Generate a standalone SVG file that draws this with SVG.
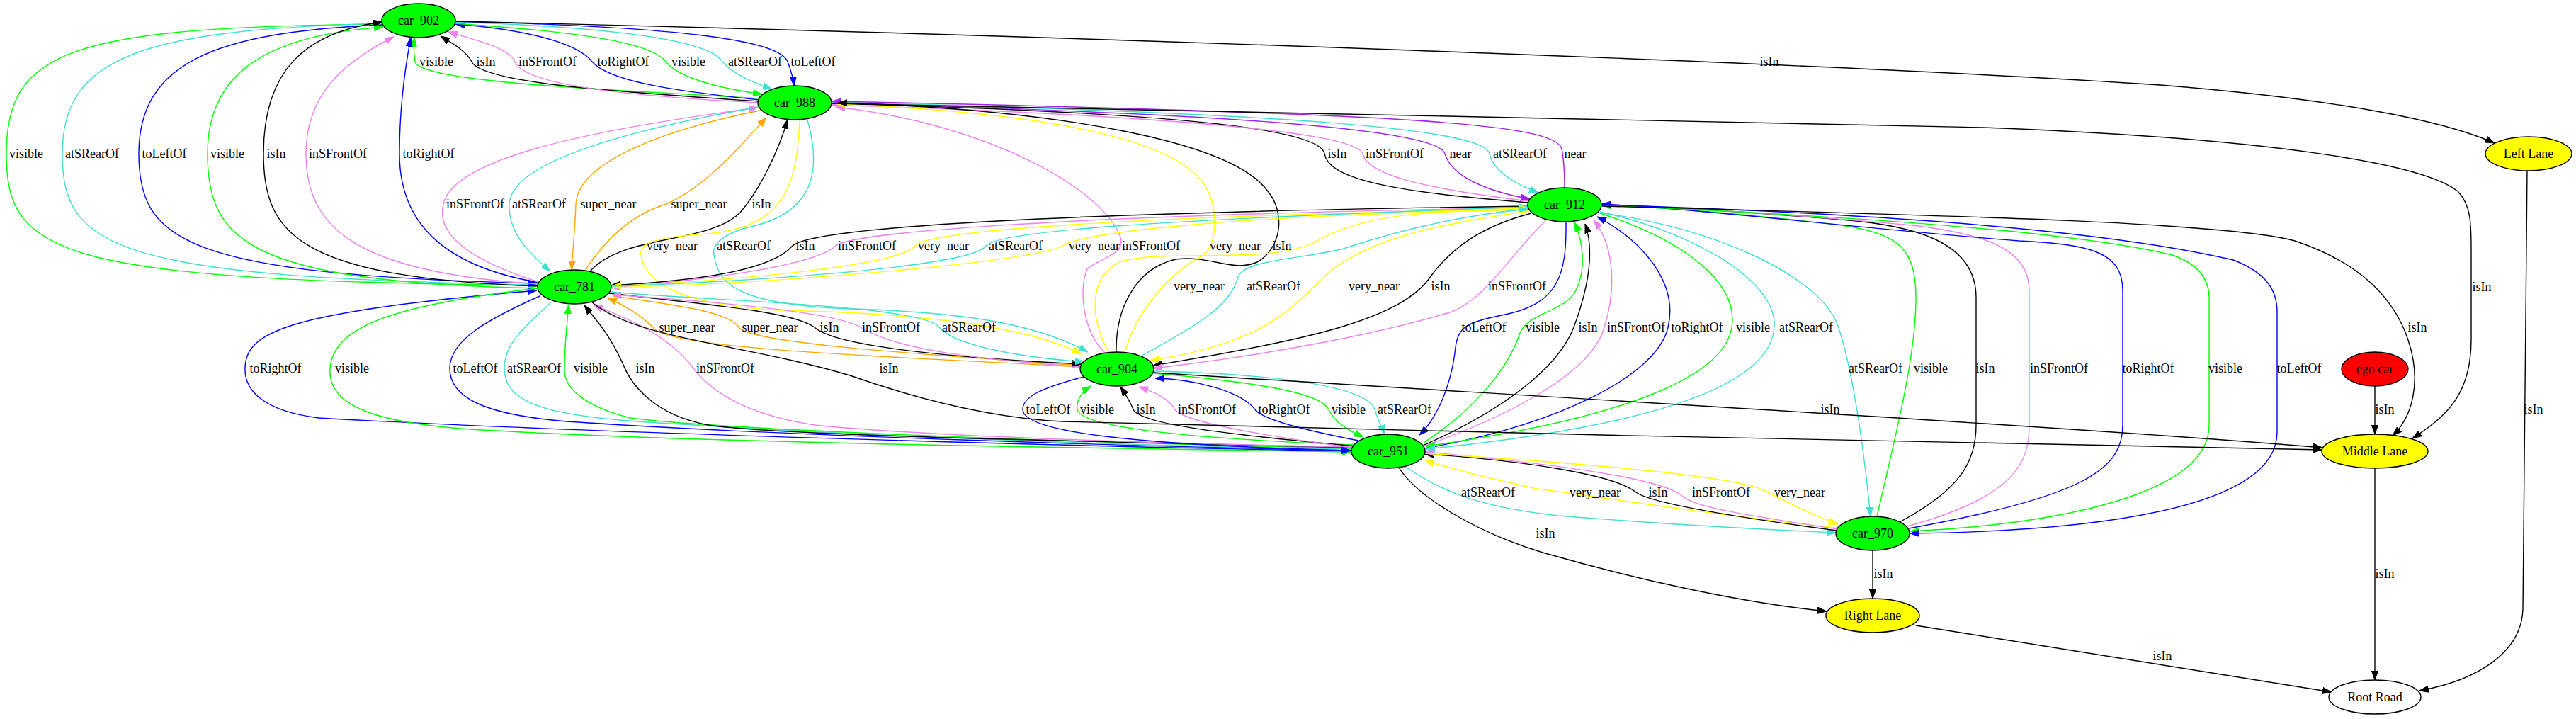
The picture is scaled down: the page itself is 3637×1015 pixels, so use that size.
<svg xmlns="http://www.w3.org/2000/svg" width="3637" height="1015" viewBox="0 0 3637 1015">
<style>
.e{fill:none;stroke-width:1.4}
.k{stroke:#000;marker-end:url(#mk)}
.g{stroke:#00ff00;marker-end:url(#mg)}
.t{stroke:#40e0d0;marker-end:url(#mt)}
.b{stroke:#0000ff;marker-end:url(#mb)}
.v{stroke:#ee82ee;marker-end:url(#mv)}
.o{stroke:#ffa500;marker-end:url(#mo)}
.y{stroke:#ffff00;marker-end:url(#my)}
.p{stroke:#a020f0;marker-end:url(#mp)}
.l{font-family:"Liberation Serif","Times New Roman",serif;font-size:18px;text-anchor:middle;fill:#000}
.n{stroke:#000;stroke-width:1.4}
.car{fill:#00ff00}
.lane{fill:#ffff00}
</style>
<defs>
<marker id="mk" viewBox="0 0 13 10" refX="13" refY="5" markerWidth="13" markerHeight="10" markerUnits="userSpaceOnUse" orient="auto"><path d="M0,0.4 L13,5 L0,9.6 Z" fill="#000" stroke="#000"/></marker>
<marker id="mg" viewBox="0 0 13 10" refX="13" refY="5" markerWidth="13" markerHeight="10" markerUnits="userSpaceOnUse" orient="auto"><path d="M0,0.4 L13,5 L0,9.6 Z" fill="#00ff00" stroke="#00ff00"/></marker>
<marker id="mt" viewBox="0 0 13 10" refX="13" refY="5" markerWidth="13" markerHeight="10" markerUnits="userSpaceOnUse" orient="auto"><path d="M0,0.4 L13,5 L0,9.6 Z" fill="#40e0d0" stroke="#40e0d0"/></marker>
<marker id="mb" viewBox="0 0 13 10" refX="13" refY="5" markerWidth="13" markerHeight="10" markerUnits="userSpaceOnUse" orient="auto"><path d="M0,0.4 L13,5 L0,9.6 Z" fill="#0000ff" stroke="#0000ff"/></marker>
<marker id="mv" viewBox="0 0 13 10" refX="13" refY="5" markerWidth="13" markerHeight="10" markerUnits="userSpaceOnUse" orient="auto"><path d="M0,0.4 L13,5 L0,9.6 Z" fill="#ee82ee" stroke="#ee82ee"/></marker>
<marker id="mo" viewBox="0 0 13 10" refX="13" refY="5" markerWidth="13" markerHeight="10" markerUnits="userSpaceOnUse" orient="auto"><path d="M0,0.4 L13,5 L0,9.6 Z" fill="#ffa500" stroke="#ffa500"/></marker>
<marker id="my" viewBox="0 0 13 10" refX="13" refY="5" markerWidth="13" markerHeight="10" markerUnits="userSpaceOnUse" orient="auto"><path d="M0,0.4 L13,5 L0,9.6 Z" fill="#ffff00" stroke="#ffff00"/></marker>
<marker id="mp" viewBox="0 0 13 10" refX="13" refY="5" markerWidth="13" markerHeight="10" markerUnits="userSpaceOnUse" orient="auto"><path d="M0,0.4 L13,5 L0,9.6 Z" fill="#a020f0" stroke="#a020f0"/></marker>
</defs>
<rect width="3637" height="1015" fill="#fff"/>
<g id="connectors">
<!-- 902 <-> 988 -->
<path class="e g" d="M1072,139 C900,128 592,118 586,87 C584,75 584,64 585,53"/>
<path class="e k" d="M1071,143 C880,130 680,118 666,87 C658,72 640,62 622,51"/>
<path class="e v" d="M1071,145 C880,135 740,120 727,87 C720,68 670,56 633,45"/>
<path class="e b" d="M1072,141 C950,128 860,115 836,87 C810,55 720,40 643,34"/>
<path class="e g" d="M641,33 C820,45 920,60 940,87 C960,112 1020,125 1076,133"/>
<path class="e t" d="M642,31 C850,38 1000,55 1020,87 C1035,105 1065,117 1090,126"/>
<path class="e b" d="M643,30 C950,38 1100,55 1112,87 C1117,100 1120,110 1121,121"/>
<!-- 902 <-> 781 -->
<path class="e g" d="M540,34 C100,38 9,70 9,217 C9,360 80,396 759,403"/>
<path class="e t" d="M540,33 C200,42 88,80 88,217 C88,350 160,392 759,402"/>
<path class="e b" d="M541,35 C300,45 196,90 196,217 C196,340 260,388 759,400"/>
<path class="e g" d="M759,407 C350,398 293,340 293,217 C293,100 380,50 541,38"/>
<path class="e k" d="M760,404 C420,392 372,330 372,217 C372,100 430,45 540,31"/>
<path class="e v" d="M761,401 C500,385 432,320 432,217 C432,130 490,85 556,52"/>
<path class="e b" d="M762,399 C620,375 564,310 564,217 C564,150 572,95 580,53"/>
<!-- 988 <-> 781 -->
<path class="e v" d="M760,398 C640,360 618,320 626,288 C640,225 820,185 1070,152"/>
<path class="e t" d="M1071,151 C850,190 722,235 719,288 C717,330 750,360 777,383"/>
<path class="e o" d="M1078,155 C900,190 815,240 813,288 C812,320 809,350 807,381"/>
<path class="e o" d="M826,382 C860,330 900,300 941,288 C1000,262 1050,200 1082,166"/>
<path class="e k" d="M833,383 C880,330 1000,345 1045,300 C1075,265 1100,210 1112,169"/>
<!-- 988 <-> 912 -->
<path class="e k" d="M2158,286 C1950,270 1875,250 1870,217 C1865,185 1700,160 1175,146"/>
<path class="e v" d="M2158,284 C2000,265 1930,245 1924,217 C1915,190 1700,165 1175,148"/>
<path class="e p" d="M1174,145 C1700,160 2030,180 2040,217 C2050,250 2100,270 2160,281"/>
<path class="e t" d="M1174,144 C1800,160 2095,180 2103,217 C2108,240 2135,258 2172,272"/>
<path class="e p" d="M2209,265 C2209,240 2208,225 2205,210 C2195,175 2000,160 1175,143"/>
<!-- 988 <-> 904 -->
<path class="e y" d="M1129,169 C1125,260 1110,320 1000,330 C920,335 902,345 905,360 C911,400 960,430 1100,438 C1300,442 1450,460 1527,500"/>
<path class="e t" d="M1140,169 C1160,240 1150,300 1060,320 C1020,330 1005,345 1008,360 C1015,410 1060,430 1200,436 C1350,440 1460,455 1536,497"/>
<path class="e v" d="M1560,498 C1530,470 1522,410 1535,380 C1550,365 1590,360 1582,335 C1560,270 1400,175 1180,151"/>
<path class="e y" d="M1588,497 C1605,440 1650,385 1700,360 C1720,340 1720,290 1700,260 C1660,200 1500,160 1182,147"/>
<path class="e k" d="M1576,497 C1575,440 1600,380 1660,366 C1710,360 1740,385 1775,370 C1810,350 1815,300 1790,270 C1740,200 1500,155 1183,145"/>
<!-- 912 <-> 781 -->
<path class="e k" d="M2160,291 C1500,300 1150,320 1119,347 C1090,380 1000,395 862,403"/>
<path class="e v" d="M2160,293 C1450,305 1200,330 1180,347 C1150,375 1000,395 863,406"/>
<path class="e y" d="M2160,295 C1600,305 1310,325 1292,347 C1270,375 1050,395 864,404"/>
<path class="e t" d="M863,404 C1000,400 1370,380 1392,347 C1410,325 1650,310 2158,292"/>
<path class="e y" d="M863,406 C1100,400 1460,370 1500,347 C1530,330 1700,305 2158,296"/>
<!-- 912 <-> 904 -->
<path class="e y" d="M1565,497 C1540,450 1535,395 1580,370 C1640,350 1800,375 1860,340 C1920,305 2000,298 2158,294"/>
<path class="e t" d="M1612,502 C1690,460 1740,430 1748,390 C1760,365 1850,365 1900,350 C1960,330 2050,305 2158,295"/>
<path class="e y" d="M2159,298 C2000,320 1920,345 1870,390 C1820,440 1780,485 1624,509"/>
<path class="e k" d="M2162,301 C2090,320 2050,350 2020,390 C1980,450 1850,480 1628,516"/>
<path class="e v" d="M2183,311 C2140,350 2100,420 2050,440 C1950,470 1800,500 1628,520"/>
<!-- 781 <-> 904 -->
<path class="e o" d="M1525,518 C1300,505 960,495 925,465 C905,445 880,430 858,421"/>
<path class="e o" d="M866,418 C950,430 1030,440 1043,462 C1060,485 1300,500 1526,516"/>
<path class="e k" d="M860,414 C1000,430 1120,440 1150,462 C1180,490 1350,505 1527,514"/>
<path class="e v" d="M1527,518 C1350,505 1260,490 1215,462 C1180,440 1000,425 864,416"/>
<path class="e t" d="M862,412 C1000,425 1300,430 1326,462 C1350,490 1450,505 1531,511"/>
<!-- 781 <-> 951 -->
<path class="e b" d="M1907,637 C1500,630 800,610 450,590 C370,580 345,550 346,520 C346,470 400,440 758,410"/>
<path class="e g" d="M759,407 C560,430 470,460 466,520 C462,570 520,600 700,608 C1000,625 1500,632 1908,638"/>
<path class="e b" d="M762,418 C690,450 635,480 635,520 C635,560 680,585 800,595 C1100,615 1600,630 1907,636"/>
<path class="e t" d="M778,427 C730,470 712,490 712,520 C712,565 760,585 900,595 C1200,615 1600,630 1910,634"/>
<path class="e g" d="M1910,633 C1500,625 1000,605 890,590 C830,575 795,550 797,520 C797,490 800,460 803,430"/>
<path class="e k" d="M1910,632 C1500,622 1100,615 1000,600 C920,585 890,540 880,515 C860,470 840,450 825,431"/>
<path class="e v" d="M1910,631 C1600,625 1300,615 1150,600 C1050,585 1000,550 975,515 C935,465 870,445 838,430"/>
<!-- 904 <-> 951 -->
<path class="e b" d="M1530,532 C1470,548 1444,560 1444,578 C1444,610 1600,628 1907,636"/>
<path class="e g" d="M1912,628 C1700,620 1525,605 1521,578 C1519,565 1528,553 1540,545"/>
<path class="e k" d="M1915,630 C1750,615 1610,600 1600,578 C1595,565 1588,555 1582,546"/>
<path class="e v" d="M1912,632 C1780,615 1670,595 1659,578 C1648,560 1625,552 1608,546"/>
<path class="e b" d="M1918,622 C1830,605 1780,590 1772,578 C1750,550 1680,535 1631,534"/>
<path class="e g" d="M1629,527 C1780,540 1865,555 1876,578 C1885,598 1905,608 1925,617"/>
<path class="e t" d="M1629,524 C1800,528 1930,545 1941,578 C1946,595 1952,605 1955,613"/>
<!-- 912 <-> 951 -->
<path class="e b" d="M2211,313 C2212,390 2200,430 2120,445 C2070,455 2059,462 2055,490 C2050,540 2030,590 2004,614"/>
<path class="e g" d="M2010,625 C2080,580 2130,520 2146,470 C2160,440 2210,440 2225,410 C2240,380 2235,340 2223,314"/>
<path class="e k" d="M2011,628 C2120,580 2200,520 2222,462 C2245,400 2250,350 2238,316"/>
<path class="e v" d="M2010,630 C2150,580 2250,520 2265,462 C2285,400 2275,340 2250,311"/>
<path class="e b" d="M2011,633 C2200,600 2340,530 2355,462 C2370,400 2320,340 2255,306"/>
<path class="e g" d="M2259,301 C2380,340 2455,400 2445,462 C2435,530 2300,590 2013,630"/>
<path class="e t" d="M2259,299 C2400,330 2510,400 2505,462 C2500,540 2350,600 2013,634"/>
<!-- 912 <-> 970 -->
<path class="e t" d="M2255,300 C2420,320 2570,390 2595,460 C2615,520 2630,620 2641,729"/>
<path class="e g" d="M2650,729 C2680,600 2705,500 2705,420 C2705,350 2680,330 2600,318 C2450,300 2330,292 2262,290"/>
<path class="e k" d="M2682,737 C2770,690 2790,650 2790,600 L2790,420 C2790,340 2700,318 2600,310 C2450,298 2330,291 2262,289"/>
<path class="e v" d="M2693,743 C2850,700 2865,650 2865,600 L2865,410 C2865,350 2800,330 2700,318 C2500,300 2330,291 2262,289"/>
<path class="e b" d="M2695,746 C2950,700 2997,660 2997,600 L2997,410 C2997,355 2950,345 2850,340 C2600,320 2400,295 2262,288"/>
<path class="e g" d="M2262,290 C2500,300 2900,320 3067,360 C3110,375 3119,400 3119,420 L3119,600 C3119,700 2900,740 2697,750"/>
<path class="e b" d="M2262,289 C2600,300 2950,320 3153,367 C3200,385 3215,410 3215,440 L3215,610 C3215,720 2950,750 2697,753"/>
<!-- 951 <-> 970 -->
<path class="e t" d="M1983,658 C2030,690 2080,715 2200,728 C2350,740 2500,748 2592,752"/>
<path class="e y" d="M2593,745 C2400,725 2250,700 2170,690 C2100,675 2050,662 2012,650"/>
<path class="e k" d="M2593,749 C2450,730 2330,710 2310,695 C2280,670 2150,650 2012,641"/>
<path class="e v" d="M2594,747 C2450,725 2390,715 2375,700 C2350,680 2250,660 2012,638"/>
<path class="e y" d="M2012,640 C2250,655 2450,672 2490,692 C2530,712 2560,728 2595,740"/>
<!-- lanes / road -->
<path class="e k" d="M643,30 C1500,50 2600,90 3050,120 C3300,140 3450,170 3522,202"/>
<path class="e k" d="M1174,146 C1700,160 2300,165 2800,180 C3200,195 3420,230 3470,270 C3490,290 3489,320 3489,360 L3489,480 C3489,560 3450,590 3406,619"/>
<path class="e k" d="M2262,291 C2800,305 3150,315 3240,340 C3330,370 3380,420 3400,480 C3420,540 3405,590 3378,615"/>
<path class="e k" d="M835,426 C900,480 1050,485 1200,530 C1300,565 1400,590 1500,595 C2000,610 3000,630 3278,635"/>
<path class="e k" d="M1629,526 C2000,550 2900,600 3279,632"/>
<path class="e k" d="M3353,545 L3353,613"/>
<path class="e k" d="M3353,661 L3353,960"/>
<path class="e k" d="M3568,241 L3562,860 C3560,920 3500,960 3416,975"/>
<path class="e k" d="M2705,883 L3292,977"/>
<path class="e k" d="M1975,660 C2000,700 2080,750 2178,780 C2300,815 2450,850 2579,863"/>
<path class="e k" d="M2644,777 L2644,845"/>
</g>
<g id="edge-labels">
<text class="l" x="616" y="93">visible</text>
<text class="l" x="686" y="93">isIn</text>
<text class="l" x="773" y="93">inSFrontOf</text>
<text class="l" x="880" y="93">toRightOf</text>
<text class="l" x="972" y="93">visible</text>
<text class="l" x="1066" y="93">atSRearOf</text>
<text class="l" x="1148" y="93">toLeftOf</text>
<text class="l" x="2498" y="93">isIn</text>
<text class="l" x="37" y="223">visible</text>
<text class="l" x="130" y="223">atSRearOf</text>
<text class="l" x="232" y="223">toLeftOf</text>
<text class="l" x="321" y="223">visible</text>
<text class="l" x="390" y="223">isIn</text>
<text class="l" x="477" y="223">inSFrontOf</text>
<text class="l" x="605" y="223">toRightOf</text>
<text class="l" x="1888" y="223">isIn</text>
<text class="l" x="1969" y="223">inSFrontOf</text>
<text class="l" x="2062" y="223">near</text>
<text class="l" x="2146" y="223">atSRearOf</text>
<text class="l" x="2224" y="223">near</text>
<text class="l" x="671" y="294">inSFrontOf</text>
<text class="l" x="761" y="294">atSRearOf</text>
<text class="l" x="859" y="294">super_near</text>
<text class="l" x="987" y="294">super_near</text>
<text class="l" x="1075" y="294">isIn</text>
<text class="l" x="949" y="353">very_near</text>
<text class="l" x="1050" y="353">atSRearOf</text>
<text class="l" x="1137" y="353">isIn</text>
<text class="l" x="1224" y="353">inSFrontOf</text>
<text class="l" x="1332" y="353">very_near</text>
<text class="l" x="1434" y="353">atSRearOf</text>
<text class="l" x="1545" y="353">very_near</text>
<text class="l" x="1625" y="353">inSFrontOf</text>
<text class="l" x="1744" y="353">very_near</text>
<text class="l" x="1810" y="353">isIn</text>
<text class="l" x="1693" y="410">very_near</text>
<text class="l" x="1798" y="410">atSRearOf</text>
<text class="l" x="1940" y="410">very_near</text>
<text class="l" x="2034" y="410">isIn</text>
<text class="l" x="2142" y="410">inSFrontOf</text>
<text class="l" x="3504" y="411">isIn</text>
<text class="l" x="970" y="468">super_near</text>
<text class="l" x="1087" y="468">super_near</text>
<text class="l" x="1171" y="468">isIn</text>
<text class="l" x="1258" y="468">inSFrontOf</text>
<text class="l" x="1368" y="468">atSRearOf</text>
<text class="l" x="2095" y="468">toLeftOf</text>
<text class="l" x="2178" y="468">visible</text>
<text class="l" x="2242" y="468">isIn</text>
<text class="l" x="2310" y="468">inSFrontOf</text>
<text class="l" x="2396" y="468">toRightOf</text>
<text class="l" x="2475" y="468">visible</text>
<text class="l" x="2550" y="468">atSRearOf</text>
<text class="l" x="3413" y="468">isIn</text>
<text class="l" x="389" y="526">toRightOf</text>
<text class="l" x="497" y="526">visible</text>
<text class="l" x="671" y="526">toLeftOf</text>
<text class="l" x="754" y="526">atSRearOf</text>
<text class="l" x="834" y="526">visible</text>
<text class="l" x="911" y="526">isIn</text>
<text class="l" x="1024" y="526">inSFrontOf</text>
<text class="l" x="1255" y="526">isIn</text>
<text class="l" x="2648" y="526">atSRearOf</text>
<text class="l" x="2726" y="526">visible</text>
<text class="l" x="2803" y="526">isIn</text>
<text class="l" x="2907" y="526">inSFrontOf</text>
<text class="l" x="3033" y="526">toRightOf</text>
<text class="l" x="3142" y="526">visible</text>
<text class="l" x="3246" y="526">toLeftOf</text>
<text class="l" x="1480" y="584">toLeftOf</text>
<text class="l" x="1549" y="584">visible</text>
<text class="l" x="1618" y="584">isIn</text>
<text class="l" x="1704" y="584">inSFrontOf</text>
<text class="l" x="1813" y="584">toRightOf</text>
<text class="l" x="1904" y="584">visible</text>
<text class="l" x="1983" y="584">atSRearOf</text>
<text class="l" x="2584" y="584">isIn</text>
<text class="l" x="3367" y="584">isIn</text>
<text class="l" x="3577" y="584">isIn</text>
<text class="l" x="2101" y="701">atSRearOf</text>
<text class="l" x="2252" y="701">very_near</text>
<text class="l" x="2341" y="701">isIn</text>
<text class="l" x="2430" y="701">inSFrontOf</text>
<text class="l" x="2541" y="701">very_near</text>
<text class="l" x="2182" y="759">isIn</text>
<text class="l" x="2659" y="816">isIn</text>
<text class="l" x="3367" y="816">isIn</text>
<text class="l" x="3053" y="932">isIn</text>
</g>
<g id="node-car_902"><ellipse class="n car" cx="591" cy="29" rx="52" ry="24"/><text class="l" x="591" y="35">car_902</text></g>
<g id="node-car_988"><ellipse class="n car" cx="1122" cy="145" rx="52" ry="24"/><text class="l" x="1122" y="151">car_988</text></g>
<g id="node-car_912"><ellipse class="n car" cx="2209" cy="289" rx="52" ry="24"/><text class="l" x="2209" y="295">car_912</text></g>
<g id="node-car_781"><ellipse class="n car" cx="811" cy="405" rx="52" ry="24"/><text class="l" x="811" y="411">car_781</text></g>
<g id="node-car_904"><ellipse class="n car" cx="1577" cy="521" rx="52" ry="24"/><text class="l" x="1577" y="527">car_904</text></g>
<g id="node-car_951"><ellipse class="n car" cx="1960" cy="637" rx="52" ry="24"/><text class="l" x="1960" y="643">car_951</text></g>
<g id="node-car_970"><ellipse class="n car" cx="2644" cy="753" rx="52" ry="24"/><text class="l" x="2644" y="759">car_970</text></g>
<g id="node-left_lane"><ellipse class="n lane" cx="3570" cy="217" rx="61" ry="24"/><text class="l" x="3570" y="223">Left Lane</text></g>
<g id="node-ego_car"><ellipse class="n" fill="#ff0000" cx="3353" cy="521" rx="47" ry="24"/><text class="l" x="3353" y="527">ego car</text></g>
<g id="node-middle_lane"><ellipse class="n lane" cx="3353" cy="637" rx="75" ry="24"/><text class="l" x="3353" y="643">Middle Lane</text></g>
<g id="node-right_lane"><ellipse class="n lane" cx="2644" cy="869" rx="66" ry="24"/><text class="l" x="2644" y="875">Right Lane</text></g>
<g id="node-root_road"><ellipse class="n" fill="#ffffff" cx="3353" cy="984" rx="65" ry="24"/><text class="l" x="3353" y="990">Root Road</text></g>
</svg>
